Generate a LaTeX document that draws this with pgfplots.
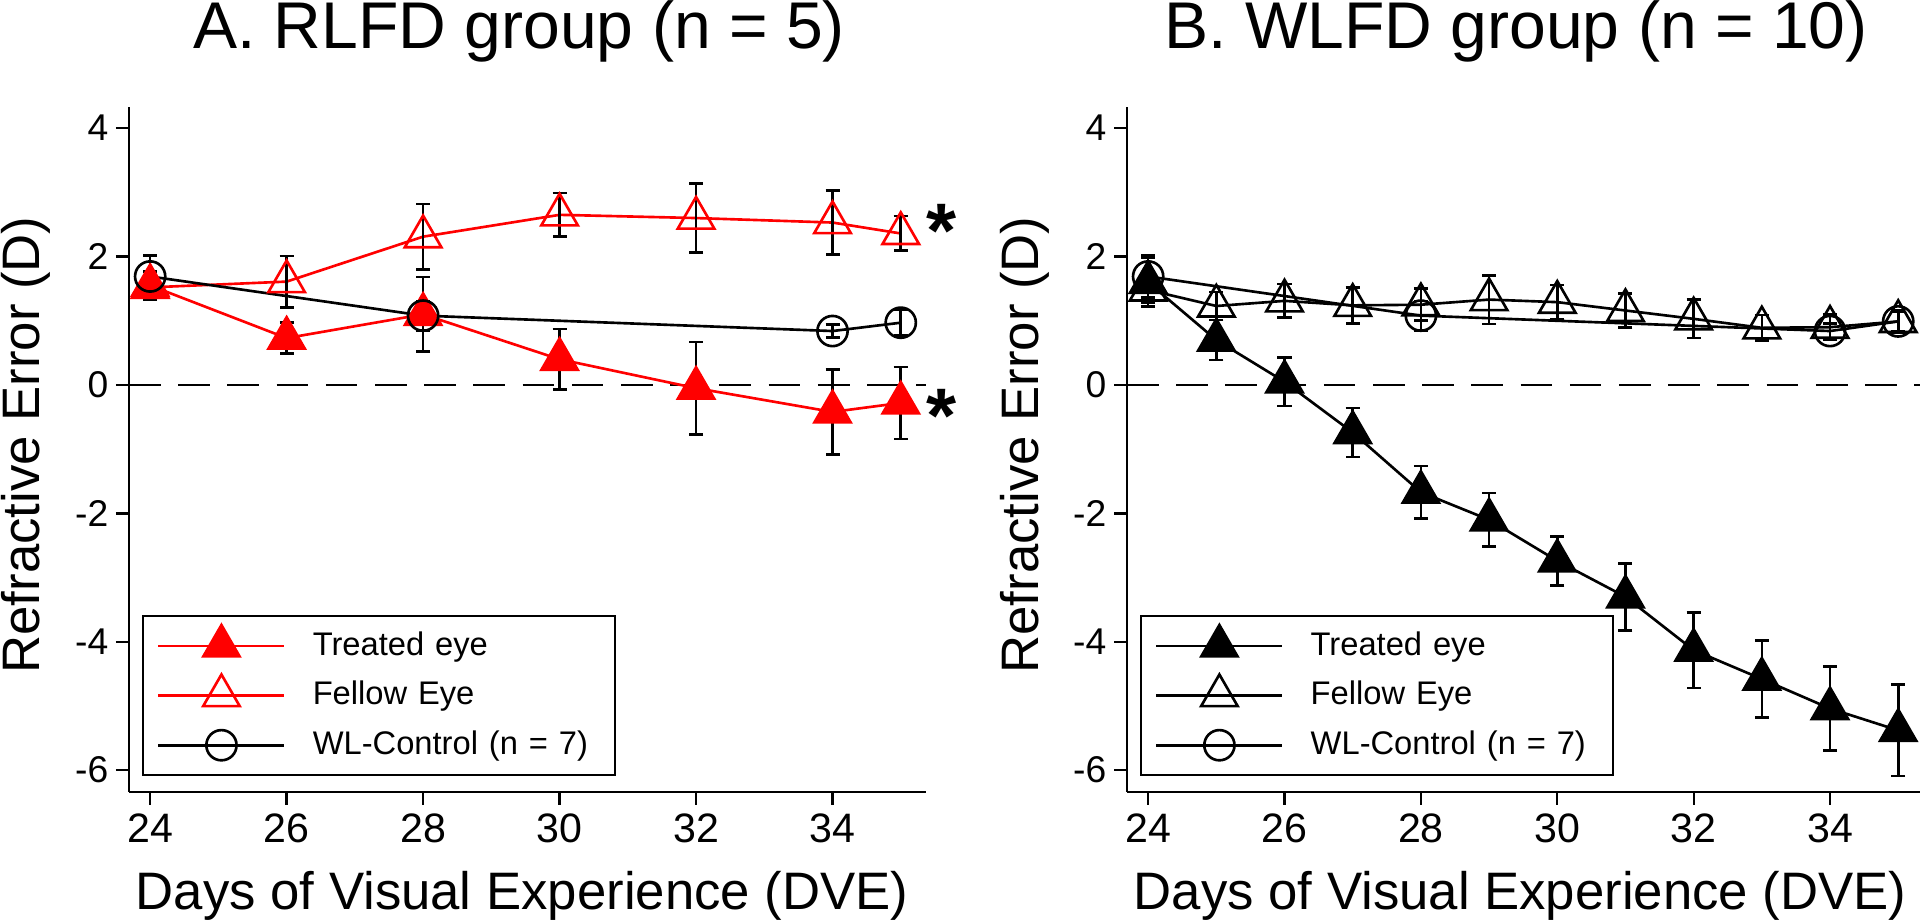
\documentclass[border=0pt]{standalone}
\usepackage{fontspec}
\setmainfont{Liberation Sans}
\usepackage{pgfplots}
\pgfplotsset{compat=1.18}
\definecolor{rred}{RGB}{255,0,0}
\pgfplotsset{
  ebars/.style={/pgfplots/error bars/y dir=both, /pgfplots/error bars/y explicit,
    /pgfplots/error bars/error bar style={black, line width=0.75pt, solid},
    /pgfplots/error bars/error mark options={rotate=90, black, mark size=2pt, line width=0.75pt, solid}},
  refstyle/.style={
    scale only axis, height=6.85cm,
    ymin=-6.34, ymax=4.33,
    axis x line*=bottom, axis y line*=left,
    axis line style={-, line width=0.65pt, black},
    xtick={24,26,...,34}, ytick={-6,-4,...,4},
    tick align=outside, major tick length=0.13cm,
    tick style={line width=0.65pt, black},
    /pgf/number format/assume math mode=true,
    yticklabel style={font=\fontsize{10.6}{12}\selectfont, inner sep=0pt, xshift=-0.07cm},
    xticklabel style={font=\fontsize{11.7}{13}\selectfont, inner sep=0pt, yshift=-0.08cm},
    clip=false,
    legend cell align=left,
    legend style={at={(0.0163,0.2584)}, anchor=north west, draw=black, line width=0.65pt,
      inner xsep=0.14cm, inner ysep=0.05cm, font=\fontsize{9.3}{11}\selectfont, row sep=0pt,
      nodes={inner sep=0pt, text width=2.88cm}},
    legend image code/.code={%
      \draw[mark repeat=2, mark phase=2] plot coordinates {(0cm,0cm) (0.63cm,0cm) (1.26cm,0cm)};
      \path (0cm,-0.235cm) (1.53cm,0.235cm);},
  },
  treated/.style={#1, line width=0.75pt, mark=triangle*, mark size=6pt, mark options={solid, fill=#1, line width=0.7pt}},
  fellow/.style={#1, line width=0.75pt, mark=triangle, mark size=6pt, mark options={solid, line width=0.75pt}},
  control/.style={black, line width=0.75pt, mark=o, mark size=4.3pt, mark options={solid, line width=0.75pt}},
}
\begin{document}
\begin{tikzpicture}
\useasboundingbox (0,0) rectangle (19.2,9.24);
% Panel A
\begin{axis}[refstyle, at={(1.29cm,1.32cm)}, anchor=south west, width=7.97cm, xmin=23.69, xmax=35.37]
\addplot[black, line width=0.75pt, dash pattern=on 9pt off 5pt, forget plot] coordinates {(23.69,0) (35.37,0)};
\addplot[treated=rred, ebars] coordinates {
 (24,1.55) +- (0,0.22)
 (26,0.73) +- (0,0.24)
 (28,1.10) +- (0,0.58)
 (30,0.40) +- (0,0.47)
 (32,-0.05) +- (0,0.72)
 (34,-0.42) +- (0,0.66)
 (35,-0.28) +- (0,0.56)
};
\addlegendentry{Treated eye}
\addplot[fellow=rred, ebars] coordinates {
 (24,1.52) +- (0,0.15)
 (26,1.61) +- (0,0.40)
 (28,2.31) +- (0,0.51)
 (30,2.65) +- (0,0.34)
 (32,2.60) +- (0,0.54)
 (34,2.53) +- (0,0.50)
 (35,2.36) +- (0,0.27)
};
\addlegendentry{Fellow Eye}
\addplot[control, ebars] coordinates {
 (24,1.69) +- (0,0.33)
 (28,1.08) +- (0,0.23)
 (34,0.84) +- (0,0.10)
 (35,0.97) +- (0,0.20)
};
\addlegendentry{WL-Control (n = 7)}
\node[font=\fontsize{22}{22}\selectfont\bfseries, inner sep=0pt, anchor=north] at (axis cs:35.6,2.82) {*};
\node[font=\fontsize{22}{22}\selectfont\bfseries, inner sep=0pt, anchor=north] at (axis cs:35.6,-0.05) {*};
\end{axis}
% Panel B
\begin{axis}[refstyle, at={(11.27cm,1.32cm)}, anchor=south west, width=7.93cm, xmin=23.69, xmax=35.32]
\addplot[black, line width=0.75pt, dash pattern=on 9pt off 5pt, forget plot] coordinates {(23.69,0) (35.32,0)};
\addplot[treated=black, ebars] coordinates {
 (24,1.60) +- (0,0.38)
 (25,0.70) +- (0,0.31)
 (26,0.05) +- (0,0.38)
 (27,-0.74) +- (0,0.38)
 (28,-1.67) +- (0,0.41)
 (29,-2.10) +- (0,0.42)
 (30,-2.74) +- (0,0.38)
 (31,-3.30) +- (0,0.52)
 (32,-4.13) +- (0,0.59)
 (33,-4.58) +- (0,0.60)
 (34,-5.04) +- (0,0.65)
 (35,-5.38) +- (0,0.71)
};
\addlegendentry{Treated eye}
\addplot[fellow=black, ebars] coordinates {
 (24,1.48) +- (0,0.20)
 (25,1.23) +- (0,0.22)
 (26,1.31) +- (0,0.26)
 (27,1.24) +- (0,0.28)
 (28,1.25) +- (0,0.25)
 (29,1.33) +- (0,0.38)
 (30,1.29) +- (0,0.27)
 (31,1.16) +- (0,0.26)
 (32,1.03) +- (0,0.30)
 (33,0.89) +- (0,0.20)
 (34,0.90) +- (0,0.20)
 (35,0.99) +- (0,0.18)
};
\addlegendentry{Fellow Eye}
\addplot[control, ebars] coordinates {
 (24,1.69) +- (0,0.33)
 (28,1.08) +- (0,0.23)
 (34,0.84) +- (0,0.12)
 (35,0.99) +- (0,0.15)
};
\addlegendentry{WL-Control (n = 7)}
\end{axis}
% Titles and labels
\node[anchor=base, font=\fontsize{18.8}{21}\selectfont] at (5.19,8.75) {A. RLFD group (n = 5)};
\node[anchor=base, font=\fontsize{18.8}{21}\selectfont] at (15.16,8.75) {B. WLFD group (n = 10)};
\node[anchor=base, font=\fontsize{15}{18}\selectfont] at (5.22,0.14) {Days of Visual Experience (DVE)};
\node[anchor=base, font=\fontsize{15}{18}\selectfont] at (15.20,0.14) {Days of Visual Experience (DVE)};
\node[rotate=90, anchor=base, font=\fontsize{15}{18}\selectfont] at (0.40,4.79) {Refractive Error (D)};
\node[rotate=90, anchor=base, font=\fontsize{15}{18}\selectfont] at (10.38,4.79) {Refractive Error (D)};
\end{tikzpicture}
\end{document}
